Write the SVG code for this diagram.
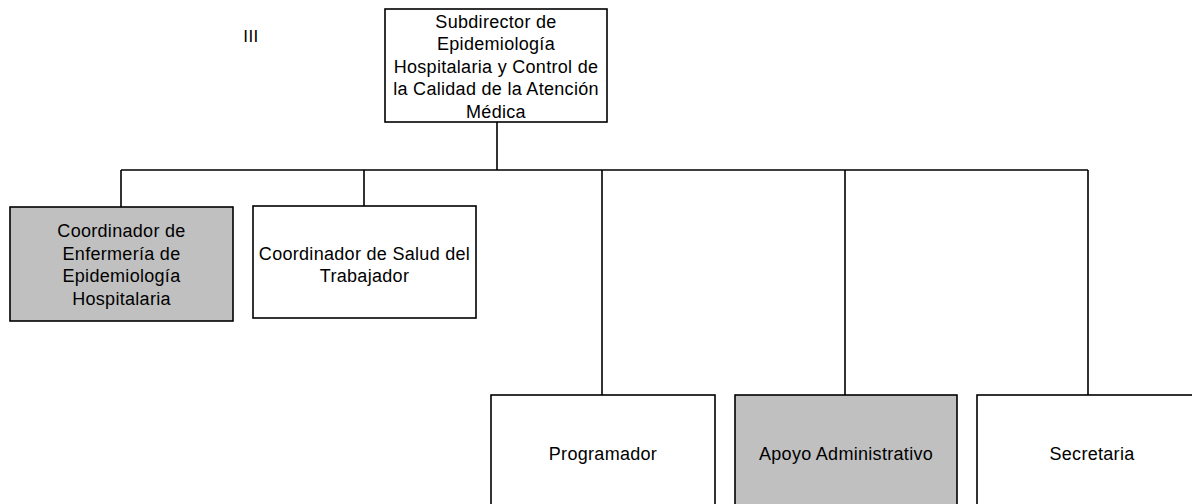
<svg xmlns="http://www.w3.org/2000/svg" width="1192" height="504" viewBox="0 0 1192 504">
<style>
.box{fill:#ffffff;stroke:#000000;stroke-width:1.6}
.grey{fill:#c0c0c0}
.t{font-family:"Liberation Sans",Arial,sans-serif;font-size:18px;fill:#000000;text-anchor:middle;letter-spacing:0.3px}
.c{fill:none;stroke:#000000;stroke-width:1.6}
</style>
<rect width="1192" height="504" fill="#ffffff"/>
<text x="251" y="42" style="font-family:'Liberation Sans',Arial,sans-serif;font-size:17px;fill:#000000;text-anchor:middle;letter-spacing:0.5px">III</text>
<g id="connectors">
<path class="c" d="M497 122V170M121 170H1088M121 170V207M364 170V206M602 170V395M845 170V395M1088 170V395"/>
</g>
<g id="n-subdirector">
<rect class="box" x="385" y="9" width="222" height="113"/>
<text class="t" x="496" y="27.5">Subdirector de</text>
<text class="t" x="496" y="50">Epidemiología</text>
<text class="t" x="496" y="72.5">Hospitalaria y Control de</text>
<text class="t" x="496" y="95">la Calidad de la Atención</text>
<text class="t" x="496" y="117.5">Médica</text>
</g>
<g id="n-coord-enfermeria">
<rect class="box grey" x="10" y="207" width="223" height="114"/>
<text class="t" x="121.5" y="237">Coordinador de</text>
<text class="t" x="121.5" y="259.5">Enfermería de</text>
<text class="t" x="121.5" y="282">Epidemiología</text>
<text class="t" x="121.5" y="304.5">Hospitalaria</text>
</g>
<g id="n-coord-salud">
<rect class="box" x="253" y="206" width="223" height="112"/>
<text class="t" x="364.5" y="259.5">Coordinador de Salud del</text>
<text class="t" x="364.5" y="282">Trabajador</text>
</g>
<g id="n-programador">
<rect class="box" x="491" y="395" width="224" height="130"/>
<text class="t" x="603" y="459.5">Programador</text>
</g>
<g id="n-apoyo">
<rect class="box grey" x="735" y="395" width="222" height="130"/>
<text class="t" x="846" y="459.5">Apoyo Administrativo</text>
</g>
<g id="n-secretaria">
<rect class="box" x="977" y="395" width="224" height="130"/>
<text class="t" x="1092" y="459.5">Secretaria</text>
</g>
</svg>
